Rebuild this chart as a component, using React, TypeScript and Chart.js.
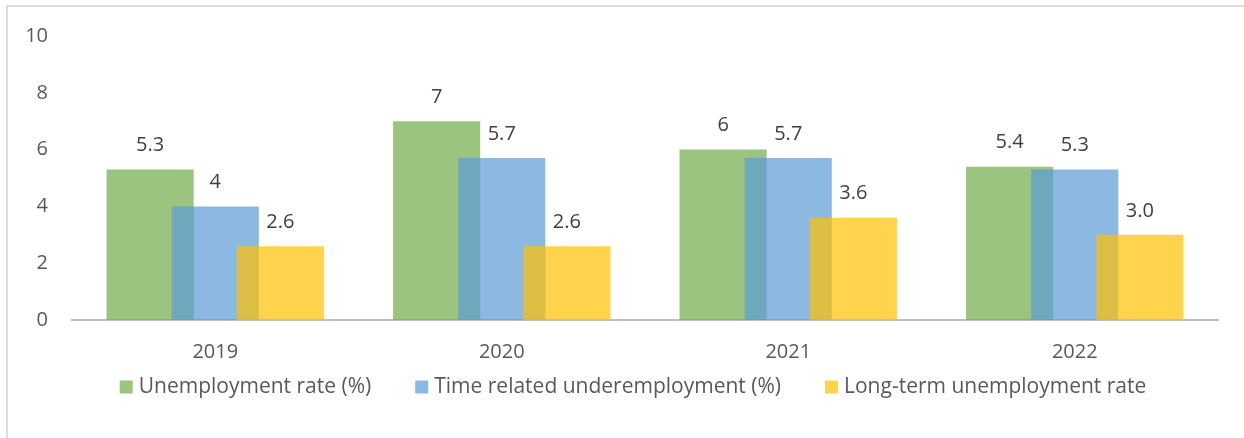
import React, { useEffect, useRef } from "react";
import { Chart, registerables } from "chart.js";

Chart.register(...registerables);

const categories = ["2019", "2020", "2021", "2022"];
const unemploymentRate = [5.3, 7, 6, 5.4];
const underemployment = [4, 5.7, 5.7, 5.3];
const longTermRate = [2.6, 2.6, 3.6, 3.0];
const unemploymentLabels = ["5.3", "7", "6", "5.4"];
const underemploymentLabels = ["4", "5.7", "5.7", "5.3"];
const longTermLabels = ["2.6", "2.6", "3.6", "3.0"];
const seriesNames = [
  "Unemployment rate (%)",
  "Time related underemployment (%)",
  "Long-term unemployment rate",
];
const yMin = 0;
const yMax = 10;
const yStep = 2;

const FONT = "'Open Sans', Lato, sans-serif";
const FONT_SIZE = 20;
const LEGEND_FONT_SIZE = 21;

// Draw datasets in index order so later series sit on top of earlier ones
// (as in the original overlapping bars), then value labels.
const drawOrderPlugin = {
  id: "drawOrder",
  beforeDatasetsDraw(chart: any) {
    const n = chart.data.datasets.length;
    for (let i = 0; i < n; i++) {
      const meta = chart.getDatasetMeta(i);
      if (!meta.hidden) meta.controller.draw();
    }
    return false;
  },
  afterDraw(chart: any) {
    const ctx = chart.ctx;
    ctx.save();
    ctx.font = `${FONT_SIZE}px ${FONT}`;
    ctx.fillStyle = "#404040";
    ctx.textAlign = "center";
    ctx.textBaseline = "middle";
    chart.data.datasets.forEach((ds: any, i: number) => {
      const meta = chart.getDatasetMeta(i);
      meta.data.forEach((bar: any, j: number) => {
        ctx.fillText(ds.valueLabels[j], bar.x, bar.y - 24);
      });
    });
    ctx.restore();
  },
};

const legendPlugin = {
  id: "bottomLegend",
  afterDraw(chart: any) {
    const ctx = chart.ctx;
    ctx.save();
    ctx.font = `${LEGEND_FONT_SIZE}px ${FONT}`;
    ctx.textBaseline = "middle";
    ctx.textAlign = "left";
    const box = 13;
    const textGap = 6;
    const itemGap = 44;
    const items = chart.data.datasets.map((ds: any) => ({
      text: ds.label as string,
      color: ds.backgroundColor as string,
    }));
    const widths = items.map(
      (it: any) => box + textGap + ctx.measureText(it.text).width
    );
    const total =
      widths.reduce((a: number, b: number) => a + b, 0) +
      itemGap * (items.length - 1);
    let x = 633 - total / 2;
    const y = 387;
    items.forEach((it: any, i: number) => {
      ctx.fillStyle = it.color;
      ctx.fillRect(x, y - box / 2, box, box);
      ctx.fillStyle = "#595959";
      ctx.fillText(it.text, x + box + textGap, y);
      x += widths[i] + itemGap;
    });
    ctx.restore();
  },
};

export default function App() {
  const canvasRef = useRef<HTMLCanvasElement | null>(null);

  useEffect(() => {
    if (!canvasRef.current) return;
    const chart = new Chart(canvasRef.current, {
      type: "bar",
      data: {
        labels: categories,
        datasets: [
          {
            label: seriesNames[0],
            data: unemploymentRate,
            valueLabels: unemploymentLabels,
            backgroundColor: "rgba(112,173,71,0.7)",
            borderWidth: 0,
          } as any,
          {
            label: seriesNames[1],
            data: underemployment,
            valueLabels: underemploymentLabels,
            backgroundColor: "rgba(91,155,213,0.7)",
            borderWidth: 0,
          } as any,
          {
            label: seriesNames[2],
            data: longTermRate,
            valueLabels: longTermLabels,
            backgroundColor: "rgba(255,192,0,0.7)",
            borderWidth: 0,
          } as any,
        ],
      },
      options: {
        animation: false,
        responsive: true,
        maintainAspectRatio: false,
        datasets: {
          bar: {
            categoryPercentage: 0.682,
            barPercentage: 1.338,
          },
        },
        layout: { padding: { top: 34, bottom: 68, left: 0, right: 26 } },
        plugins: {
          tooltip: { enabled: false },
          legend: { display: false },
        },
        scales: {
          x: {
            grid: { display: false, drawTicks: false },
            border: { display: true, color: "#BFBFBF", width: 2 },
            ticks: {
              color: "#595959",
              padding: 20,
              font: { family: FONT, size: FONT_SIZE },
            },
            afterFit(scale: any) {
              scale.height = 50;
            },
          },
          y: {
            min: yMin,
            max: yMax,
            grid: { display: false, drawTicks: false },
            border: { display: false },
            ticks: {
              stepSize: yStep,
              color: "#595959",
              padding: 24,
              font: { family: FONT, size: FONT_SIZE },
            },
            afterFit(scale: any) {
              scale.width = 72;
            },
          },
        },
      },
      plugins: [drawOrderPlugin, legendPlugin],
    });
    return () => chart.destroy();
  }, []);

  return (
    <div
      style={{
        position: "absolute",
        left: 0,
        top: 0,
        width: 1244,
        height: 438,
        background: "#fff",
        overflow: "hidden",
      }}
    >
      <div
        style={{
          position: "absolute",
          left: 6,
          top: 5,
          width: 1260,
          height: 460,
          border: "2px solid #DDDDDD",
        }}
      />
      <canvas ref={canvasRef} />
    </div>
  );
}
